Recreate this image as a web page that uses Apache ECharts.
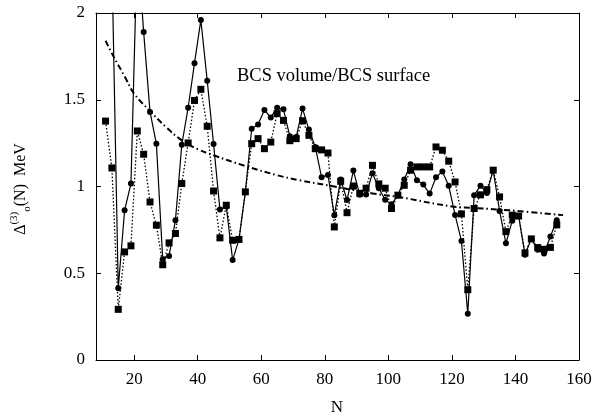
<!DOCTYPE html>
<html>
<head>
<meta charset="utf-8">
<script src="https://cdn.jsdelivr.net/npm/echarts@6/dist/echarts.min.js"></script>
<style>html,body{margin:0;padding:0;background:#fff;}#c{width:598px;height:417px;}</style>
</head>
<body>
<div id="c"></div>
<script>
// Neutron numbers (odd N)
var nVolume = [13,15,17,19,21,23,25,27,29,31,33,35,37,39,41,43,45,47,49,51,53,55,57,59,61,63,65,67,69,71,73,75,77,79,81,83,85,87,89,91,93,95,97,99,101,103,105,107,109,111,113,115,117,119,121,123,125,127,129,131,133,135,137,139,141,143,145,147,149,151,153];
// solid line with circles
var gapVolume = [2.3,0.413,0.863,1.017,2.4,1.89,1.43,1.247,0.58,0.60,0.806,1.241,1.454,1.711,1.96,1.61,1.245,0.868,0.885,0.576,0.695,0.969,1.333,1.358,1.441,1.398,1.454,1.445,1.289,1.285,1.449,1.328,1.228,1.053,1.067,0.835,1.04,0.922,1.092,0.953,0.954,1.076,0.99,0.924,0.897,0.95,1.04,1.128,1.036,1.011,0.959,1.053,1.086,1.004,0.836,0.686,0.266,0.95,1.004,0.963,1.094,0.859,0.673,0.803,0.83,0.607,0.698,0.635,0.614,0.712,0.806];
var nSurface = [11,13,15,17,19,21,23,25,27,29,31,33,35,37,39,41,43,45,47,49,51,53,55,57,59,61,63,65,67,69,71,73,75,77,79,81,83,85,87,89,91,93,95,97,99,101,103,105,107,109,111,113,115,117,119,121,123,125,127,129,131,133,135,137,139,141,143,145,147,149,151,153];
// dotted line with squares
var gapSurface = [1.377,1.107,0.292,0.623,0.658,1.32,1.186,0.911,0.777,0.549,0.675,0.729,1.017,1.251,1.496,1.56,1.347,0.974,0.704,0.892,0.69,0.695,0.969,1.247,1.276,1.218,1.256,1.42,1.381,1.264,1.276,1.379,1.295,1.218,1.211,1.193,0.767,1.03,0.849,1.003,0.961,0.99,1.122,1.015,0.99,0.873,0.95,1.007,1.094,1.113,1.113,1.113,1.228,1.209,1.146,1.026,0.842,0.405,0.873,0.952,0.982,1.094,0.94,0.74,0.835,0.83,0.617,0.698,0.648,0.638,0.649,0.779];
// ratio curve (dash-dot)
var nRatio = [11,13.5,17,20,25,30,35,40,45,55,65,72,83,95,103,120,128,138,155];
var ratio = [1.84,1.75,1.635,1.535,1.435,1.343,1.266,1.215,1.18,1.118,1.065,1.036,1.0,0.96,0.94,0.885,0.875,0.863,0.835];

var xTicks = [20,40,60,80,100,120,140,160];
var yTicks = [0,0.5,1,1.5,2];
var annotation = 'BCS volume/BCS surface';

function pairs(xs, ys){ return xs.map(function(x,i){ return [x, ys[i]]; }); }

var FONT = 'Liberation Serif';
var chart = echarts.init(document.getElementById('c'), null, {renderer:'canvas'});
var axisLineStyle = {color:'#000', width:1};
var tickStyle = {color:'#000', width:1};
function xAxisDef(pos, showLabel){
  return {
    type:'value', position:pos, min:8, max:160,
    axisLine:{show:true, onZero:false, lineStyle:axisLineStyle},
    axisTick:{show:true, inside:true, length:5, lineStyle:tickStyle, customValues:xTicks},
    axisLabel:{show:showLabel, customValues:xTicks, margin:11, color:'#000', fontFamily:FONT, fontSize:17},
    splitLine:{show:false}
  };
}
function yAxisDef(pos, showLabel){
  return {
    type:'value', position:pos, min:0, max:2, interval:0.5,
    axisLine:{show:true, onZero:false, lineStyle:axisLineStyle},
    axisTick:{show:true, inside:true, length:5, lineStyle:tickStyle},
    axisLabel:{show:showLabel, margin:11, color:'#000', fontFamily:FONT, fontSize:17,
      formatter:function(v){ return String(v); }},
    splitLine:{show:false}
  };
}

chart.setOption({
  animation:false,
  backgroundColor:'#fff',
  grid:{left:96, top:13, width:483, height:347, containLabel:false},
  xAxis:[xAxisDef('bottom', true), xAxisDef('top', false)],
  yAxis:[yAxisDef('left', true), yAxisDef('right', false)],
  series:[
    {
      type:'line', data:pairs(nRatio, ratio), smooth:0.4, showSymbol:false, symbol:'none',
      lineStyle:{color:'#000', width:2, type:[6,3,1.5,3]}, z:2
    },
    {
      type:'line', data:pairs(nSurface, gapSurface), symbol:'rect', symbolSize:7,
      itemStyle:{color:'#000'}, lineStyle:{color:'#000', width:1.3, type:[1.5,2]}, z:3, clip:true
    },
    {
      type:'line', data:pairs(nVolume, gapVolume), symbol:'circle', symbolSize:6,
      itemStyle:{color:'#000'}, lineStyle:{color:'#000', width:1.2}, z:4, clip:true
    }
  ],
  graphic:[
    {type:'text', x:237, y:76, style:{text:annotation, font:'18.5px "Liberation Serif"', fill:'#000', textVerticalAlign:'middle', verticalAlign:'middle'}},
    {type:'text', x:337, y:408, style:{text:'N', font:'17px "Liberation Serif"', fill:'#000', textAlign:'center', align:'center', textVerticalAlign:'middle', verticalAlign:'middle'}},
    {type:'text', x:21, y:189, rotation:Math.PI/2,
      style:{text:'{m|Δ}{sup|(3)}{sub|o}{m|(N)  MeV}', fill:'#000', textAlign:'center', align:'center', textVerticalAlign:'middle', verticalAlign:'middle',
        rich:{
          m:{fontFamily:FONT, fontSize:16, lineHeight:24, verticalAlign:'middle'},
          sup:{fontFamily:FONT, fontSize:11, lineHeight:12, verticalAlign:'top'},
          sub:{fontFamily:FONT, fontSize:11, lineHeight:12, verticalAlign:'bottom'}
        }}}
  ]
});
</script>
</body>
</html>
